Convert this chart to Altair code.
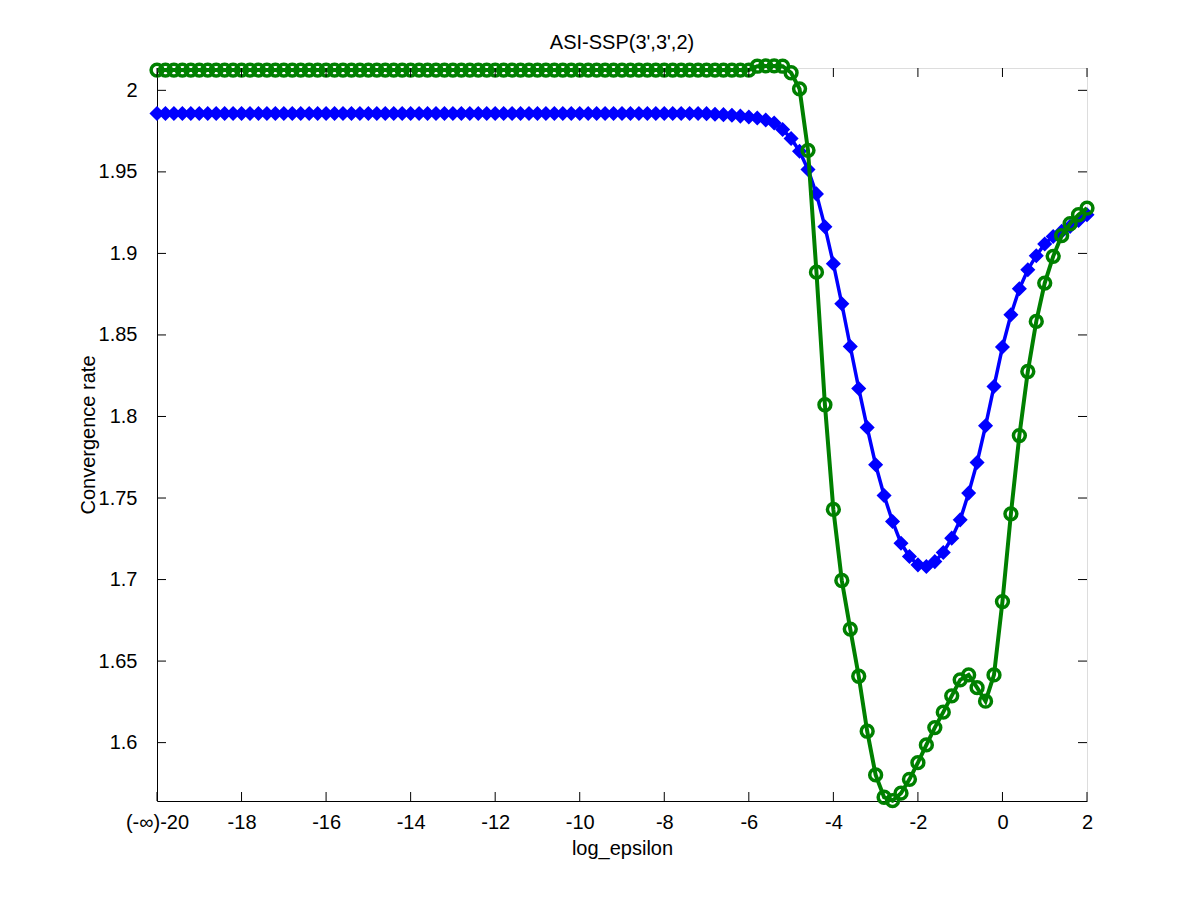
import altair as alt
import pandas as pd

# x grid (log_epsilon), step 0.2 from -20 to 2
x_vals = [round(-20 + 0.2 * i, 1) for i in range(111)]

blue_vals = [
    1.9858, 1.9858, 1.9858, 1.9858, 1.9858, 1.9858, 1.9858, 1.9858, 1.9858, 1.9858,
    1.9858, 1.9858, 1.9858, 1.9858, 1.9858, 1.9858, 1.9858, 1.9858, 1.9858, 1.9858,
    1.9858, 1.9858, 1.9858, 1.9858, 1.9858, 1.9858, 1.9858, 1.9858, 1.9858, 1.9858,
    1.9858, 1.9858, 1.9858, 1.9858, 1.9858, 1.9858, 1.9858, 1.9858, 1.9858, 1.9858,
    1.9858, 1.9858, 1.9858, 1.9858, 1.9858, 1.9858, 1.9858, 1.9858, 1.9858, 1.9858,
    1.9858, 1.9858, 1.9858, 1.9858, 1.9858, 1.9858, 1.9858, 1.9858, 1.9858, 1.9858,
    1.9858, 1.9858, 1.9858, 1.9858, 1.9858,
    1.9857, 1.9853, 1.9851, 1.9847, 1.9842, 1.9836, 1.9830, 1.9818, 1.9800, 1.9760,
    1.9705, 1.9626, 1.9515, 1.9365, 1.9164, 1.8937, 1.8691, 1.8429, 1.8172, 1.7932,
    1.7704, 1.7515, 1.7356, 1.7223, 1.7141, 1.7090, 1.7080, 1.7110, 1.7166, 1.7254,
    1.7366, 1.7530, 1.7718, 1.7943, 1.8184, 1.8426, 1.8624, 1.8783, 1.8900, 1.8986,
    1.9058, 1.9104, 1.9135, 1.9166, 1.9202, 1.9237,
]

green_vals = [
    2.0124, 2.0124, 2.0124, 2.0124, 2.0124, 2.0124, 2.0124, 2.0124, 2.0124, 2.0124,
    2.0124, 2.0124, 2.0124, 2.0124, 2.0124, 2.0124, 2.0124, 2.0124, 2.0124, 2.0124,
    2.0124, 2.0124, 2.0124, 2.0124, 2.0124, 2.0124, 2.0124, 2.0124, 2.0124, 2.0124,
    2.0124, 2.0124, 2.0124, 2.0124, 2.0124, 2.0124, 2.0124, 2.0124, 2.0124, 2.0124,
    2.0124, 2.0124, 2.0124, 2.0124, 2.0124, 2.0124, 2.0124, 2.0124, 2.0124, 2.0124,
    2.0124, 2.0124, 2.0124, 2.0124, 2.0124, 2.0124, 2.0124, 2.0124, 2.0124, 2.0124,
    2.0124, 2.0124, 2.0124, 2.0124, 2.0124, 2.0124, 2.0124, 2.0124, 2.0124, 2.0124,
    2.0124,
    2.0148, 2.0150, 2.0150, 2.0148, 2.0108, 2.0009, 1.9632, 1.8885, 1.8072, 1.7430,
    1.6994, 1.6696, 1.6407, 1.6070, 1.5802, 1.5665, 1.5644, 1.5690, 1.5775, 1.5877,
    1.5986, 1.6092, 1.6187, 1.6287, 1.6385, 1.6415, 1.6337, 1.6254, 1.6415, 1.6865,
    1.7403, 1.7883, 1.8276, 1.8583, 1.8818, 1.8982, 1.9109, 1.9182, 1.9237, 1.9278,
]

x_ticks = [-20, -18, -16, -14, -12, -10, -8, -6, -4, -2, 0, 2]
y_ticks = [1.6, 1.65, 1.7, 1.75, 1.8, 1.85, 1.9, 1.95, 2.0]
title_text = "ASI-SSP(3',3',2)"

W, H = 930, 733
FONT = "Liberation Sans"
FS = 20
TL = 9

blue_df = pd.DataFrame({"x": x_vals, "y": blue_vals})
green_df = pd.DataFrame({"x": x_vals, "y": green_vals})
xt_df = pd.DataFrame({"x": x_ticks})
yt_df = pd.DataFrame({"y": y_ticks})

xscale = alt.Scale(domain=[-20, 2], nice=False, zero=False)
yscale = alt.Scale(domain=[1.5642, 2.0137], nice=False, zero=False)

xaxis = alt.Axis(
    values=x_ticks,
    labelExpr="datum.value == -20 ? '(-\u221e)-20' : toString(datum.value)",
    title="log_epsilon", ticks=False, domain=True, domainColor="black",
    domainWidth=1, domainOpacity=1, grid=False,
    labelPadding=11, titlePadding=6, labelFontSize=FS, titleFontSize=FS,
    labelFont=FONT, titleFont=FONT, titleFontWeight="normal",
    labelColor="black", titleColor="black", labelFlush=False, labelOverlap=False,
)
yaxis = alt.Axis(
    values=y_ticks, labelExpr="toString(datum.value)", title="Convergence rate",
    ticks=False, domain=True, domainColor="black", domainWidth=1, domainOpacity=1,
    grid=False, labelPadding=20, titlePadding=0,
    labelFontSize=FS, titleFontSize=FS, labelFont=FONT, titleFont=FONT,
    titleFontWeight="normal", labelColor="black", titleColor="black",
    labelFlush=False, labelOverlap=False,
)

X = alt.X("x:Q", scale=xscale, axis=xaxis)
Y = alt.Y("y:Q", scale=yscale, axis=yaxis)

blue_line = alt.Chart(blue_df).mark_line(color="#0000ff", strokeWidth=3.5).encode(x=X, y=Y)
blue_pts = alt.Chart(blue_df).mark_point(
    shape="diamond", filled=True, color="#0000ff", size=150, stroke="#0000ff",
    strokeWidth=2, opacity=1,
).encode(x=X, y=Y)
green_line = alt.Chart(green_df).mark_line(color="#008000", strokeWidth=4).encode(x=X, y=Y)
green_pts = alt.Chart(green_df).mark_point(
    shape="circle", filled=False, color="#008000", size=140, strokeWidth=3.5, opacity=1,
).encode(x=X, y=Y)

xt_bottom = alt.Chart(xt_df).mark_rule(color="black", strokeWidth=1).encode(
    x=X, y=alt.value(H), y2=alt.value(H - TL))
xt_top = alt.Chart(xt_df).mark_rule(color="black", strokeWidth=1).encode(
    x=X, y=alt.value(0), y2=alt.value(TL))
yt_left = alt.Chart(yt_df).mark_rule(color="black", strokeWidth=1).encode(
    y=Y, x=alt.value(0), x2=alt.value(TL))
yt_right = alt.Chart(yt_df).mark_rule(color="black", strokeWidth=1).encode(
    y=Y, x=alt.value(W - TL), x2=alt.value(W))

title_layer = alt.Chart(pd.DataFrame({"t": [title_text]})).mark_text(
    font=FONT, fontSize=FS, color="black", align="center", baseline="alphabetic",
).encode(text="t:N", x=alt.value(W / 2), y=alt.value(-19))

chart = alt.layer(
    blue_line, blue_pts, green_line, green_pts,
    xt_bottom, xt_top, yt_left, yt_right, title_layer,
).properties(
    width=W, height=H,
    autosize=alt.AutoSizeParams(type="none"),
    padding={"left": 149, "top": 60, "right": 100, "bottom": 85},
).configure_view(stroke="black", strokeWidth=1, strokeOpacity=1).configure(background="white")

chart.save("out.html", embed_options={"renderer": "svg", "actions": False})
